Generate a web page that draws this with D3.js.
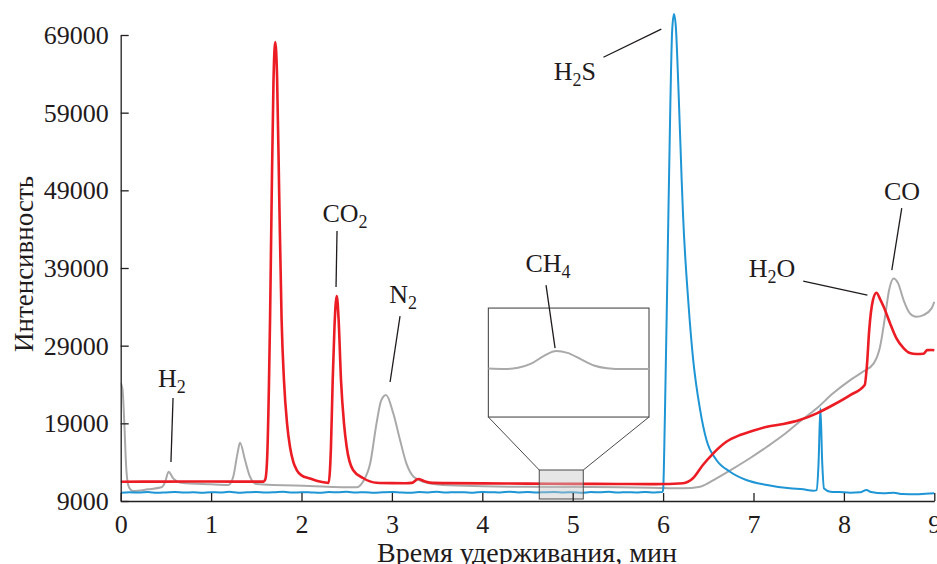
<!DOCTYPE html>
<html><head><meta charset="utf-8">
<script src="https://cdn.jsdelivr.net/npm/d3@7"></script>
<style>
html,body{margin:0;padding:0;background:#fff;}
svg{display:block;}
text{font-family:"Liberation Serif","Times New Roman",serif;fill:#1f1b1c;}
</style></head>
<body><svg id="c" width="937" height="564"></svg>
<script>
// ---------- data ----------
const xTicks = [0,1,2,3,4,5,6,7,8,9];
const yTicks = [9000,19000,29000,39000,49000,59000,69000];
const xLabel = "Время удерживания, мин";
const yLabel = "Интенсивность";

// red trace [time, intensity]
const redSeries = [
 [0,11480],[0.5,11500],[1.0,11510],[1.5,11490],[1.58,11500],[1.60,11800],[1.62,14500],[1.64,24000],
 [1.652,32300],[1.67,48000],[1.69,63000],[1.71,68100],[1.73,63500],[1.754,48000],[1.78,32300],
 [1.806,24570],[1.84,19000],[1.873,15950],[1.91,14000],[1.947,12990],[2.0,12300],[2.094,11900],
 [2.2,11500],[2.28,11350],[2.30,11340],[2.315,13000],[2.326,16000],[2.345,24500],[2.365,31500],
 [2.39,35400],[2.41,32500],[2.437,24570],[2.47,19000],[2.50,15950],[2.57,12990],[2.68,11960],
 [2.83,11350],[3.0,11300],[3.15,11290],[3.22,11330],[3.29,11830],[3.36,11550],[3.45,11330],
 [3.6,11300],[4.0,11270],[4.5,11240],[5.0,11210],[5.5,11190],[5.86,11170],[6.0,11180],[6.22,11280],
 [6.33,11920],[6.44,13630],[6.555,15140],[6.70,16630],[6.85,17490],[6.96,17920],[7.15,18560],
 [7.33,18910],[7.51,19420],[7.70,20290],[7.88,21360],[8.07,22640],[8.23,23930],[8.255,26500],
 [8.28,31000],[8.32,34800],[8.36,35810],[8.40,35000],[8.44,34000],[8.51,31900],[8.58,29980],
 [8.66,28690],[8.73,28050],[8.80,27920],[8.88,27950],[8.92,28430],[8.97,28450],[9.0,28400]
];

// grey trace [time, intensity]
const greySeries = [
 [0,24200],[0.02,23400],[0.04,19000],[0.06,13500],[0.08,11200],[0.11,10450],[0.14,10290],
 [0.3,10500],[0.45,10760],[0.49,11400],[0.53,12770],[0.58,11920],[0.67,11360],[0.99,11150],
 [1.19,11060],[1.245,12130],[1.29,15000],[1.32,16500],[1.375,14280],[1.43,12130],[1.50,11190],
 [2.09,10930],[2.61,10760],[2.68,11480],[2.76,13850],[2.83,19000],[2.88,21900],[2.935,22640],
 [3.015,20290],[3.09,16850],[3.16,13850],[3.24,12130],[3.35,11480],[3.57,11060],[4.0,10900],
 [4.5,10820],[5.0,10800],[5.5,10760],[5.86,10710],[6.22,10630],[6.41,10840],[6.59,11920],
 [6.78,13210],[6.96,14500],[7.15,15990],[7.33,17490],[7.51,19210],[7.70,20930],[7.88,22860],
 [8.07,24570],[8.21,25640],[8.33,26720],[8.40,28860],[8.455,32720],[8.50,36160],[8.55,37660],
 [8.60,37020],[8.66,34870],[8.73,33160],[8.80,32720],[8.88,32940],[8.97,33800],[9.0,34650]
];

// blue trace [time, intensity]
const blueSeries = [
 [0,10050],[0.1,10120],[0.2,10080],[0.3,10150],[0.4,10060],[0.5,10110],[0.6,10170],[0.7,10090],
 [0.8,10130],[0.9,10060],[1.0,10140],[1.1,10100],[1.2,10180],[1.3,10070],[1.4,10120],[1.5,10160],
 [1.6,10090],[1.7,10130],[1.8,10200],[1.9,10080],[2.0,10140],[2.1,10110],[2.2,10060],[2.3,10150],
 [2.4,10120],[2.5,10190],[2.6,10090],[2.7,10140],[2.8,10070],[2.9,10130],[3.0,10170],[3.1,10100],
 [3.2,10060],[3.3,10150],[3.4,10110],[3.5,10180],[3.6,10090],[3.7,10140],[3.8,10120],[3.9,10070],
 [4.0,10160],[4.1,10130],[4.2,10090],[4.3,10200],[4.4,10110],[4.5,10150],[4.6,10080],[4.7,10140],
 [4.8,10170],[4.9,10100],[5.0,10130],[5.1,10060],[5.2,10150],[5.3,10120],[5.4,10180],[5.5,10090],
 [5.6,10140],[5.7,10110],[5.8,10160],[5.9,10100],[5.99,10150],[6.00,10400],[6.02,20000],
 [6.05,40000],[6.08,60000],[6.10,69500],[6.12,71700],[6.14,70200],[6.17,62000],[6.205,50500],
 [6.22,46000],[6.28,34500],[6.33,27500],[6.41,20710],[6.48,16850],[6.59,14280],[6.74,12770],
 [6.92,11700],[7.15,11060],[7.40,10630],[7.55,10500],[7.66,10330],[7.70,10400],[7.72,14000],
 [7.74,20930],[7.76,14000],[7.78,10600],[7.85,10200],[7.95,10150],[8.07,10070],[8.18,10120],
 [8.25,10420],[8.30,10150],[8.44,9990],[8.55,10060],[8.65,9900],[8.80,9860],[8.9,9930],[9.0,9990]
];

// magnified CH4 region (inset) [time, intensity]
const insetSeries = [
 [4.63,10801],[4.68,10800],[4.72,10803],[4.76,10812],[4.80,10830],[4.836,10840],[4.87,10836],
 [4.91,10822],[4.95,10808],[4.99,10802],[5.04,10800],[5.117,10800]
];
const insetWindow = {t:[4.63,5.117], v:[9257,12990]};
const insetBox = {t:[4.067,5.844], v:[19810,33840]};
const insetDomain = [10693,10936];

// peak annotations: text (sub in braces), label anchor, leader line
const labels = [
 {text:"H{2}",   t:0.567, v:23670, line:[[0.579,22260],[0.556,14020]]},
 {text:"CO{2}",  t:2.481, v:44900, line:[[2.393,43750],[2.382,36540]]},
 {text:"N{2}",   t:3.123, v:34480, line:[[3.09,32810],[2.98,24320]]},
 {text:"CH{4}",  t:4.727, v:38470, line:[[4.705,36800],[4.805,28690]]},
 {text:"H{2}S",  t:5.025, v:63180, line:[[5.34,66140],[5.98,69750]]},
 {text:"H{2}O",  t:7.205, v:37830, line:[[7.55,37310],[8.26,35510]]},
 {text:"CO",     t:8.643, v:47740, line:[[8.64,46710],[8.53,38730]]}
];

// ---------- drawing ----------
const svg = d3.select("#c");
const x = d3.scaleLinear().domain([0,9]).range([120.7,934.3]);
const y = d3.scaleLinear().domain([9000,69000]).range([501,35]);
const AX = "#231f20";

svg.append("defs").append("clipPath").attr("id","clip")
  .append("rect").attr("x",x(0)).attr("y",0).attr("width",x(9)-x(0)+1).attr("height",y(9000));

const line = d3.line().x(d=>x(d[0])).y(d=>y(d[1])).curve(d3.curveMonotoneX);
const plot = svg.append("g").attr("clip-path","url(#clip)");
plot.append("path").datum(greySeries).attr("d",line).attr("fill","none")
  .attr("stroke","#a9a9a9").attr("stroke-width",2).attr("stroke-linejoin","round");
plot.append("path").datum(blueSeries).attr("d",line).attr("fill","none")
  .attr("stroke","#1e95d4").attr("stroke-width",2).attr("stroke-linejoin","round");
plot.append("path").datum(redSeries).attr("d",line).attr("fill","none")
  .attr("stroke","#ec1c24").attr("stroke-width",2.6).attr("stroke-linejoin","round");

// inset
const bx0=x(insetBox.t[0]), bx1=x(insetBox.t[1]), by0=y(insetBox.v[1]), by1=y(insetBox.v[0]);
const sx0=x(insetWindow.t[0]), sx1=x(insetWindow.t[1]), sy0=y(insetWindow.v[1]), sy1=y(insetWindow.v[0]);
const ins = svg.append("g");
ins.append("rect").attr("x",sx0).attr("y",sy0).attr("width",sx1-sx0).attr("height",sy1-sy0)
  .attr("fill","#c8c8c8").attr("fill-opacity",0.45).attr("stroke","#4a4a4a").attr("stroke-width",1);
ins.append("path").attr("d",`M${bx0},${by1}L${sx0},${sy0}M${bx1},${by1}L${sx1},${sy0}`)
  .attr("stroke","#4a4a4a").attr("stroke-width",1).attr("fill","none");
ins.append("rect").attr("x",bx0).attr("y",by0).attr("width",bx1-bx0).attr("height",by1-by0)
  .attr("fill","#fff").attr("stroke","#4a4a4a").attr("stroke-width",1.1);
const ix = d3.scaleLinear().domain(insetWindow.t).range([bx0,bx1]);
const iy = d3.scaleLinear().domain(insetDomain).range([by1,by0]);
ins.append("path").datum(insetSeries)
  .attr("d",d3.line().x(d=>ix(d[0])).y(d=>iy(d[1])).curve(d3.curveMonotoneX))
  .attr("fill","none").attr("stroke","#a9a9a9").attr("stroke-width",2);

// axes
const gx = svg.append("g").attr("transform",`translate(0,${y(9000)})`)
  .call(d3.axisBottom(x).tickValues(xTicks).tickFormat(d3.format("d")).tickSizeInner(-8).tickSizeOuter(0));
gx.selectAll("text").attr("y",32).attr("dy",null).style("font-size","26px").attr("fill","#1f1b1c");
const gy = svg.append("g").attr("transform",`translate(${x(0)},0)`)
  .call(d3.axisLeft(y).tickValues(yTicks).tickFormat(d3.format("d")).tickSizeInner(-8).tickSizeOuter(0).tickPadding(12));
gy.selectAll("text").style("font-size","26px").attr("fill","#1f1b1c").attr("dy","0.33em");
[gx,gy].forEach(g=>{
  g.attr("font-family",null).attr("font-size",null);
  g.selectAll("path,line").attr("stroke",AX).attr("stroke-width",1.3);
});

svg.append("text").attr("x",527).attr("y",562).attr("text-anchor","middle")
  .style("font-size","28px").text(xLabel);
svg.append("text").attr("transform","translate(33,264) rotate(-90)").attr("text-anchor","middle")
  .style("font-size","27px").text(yLabel);

// annotations
const ann = svg.append("g");
labels.forEach(l=>{
  ann.append("path").attr("d",d3.line()(l.line.map(p=>[x(p[0]),y(p[1])])))
    .attr("stroke","#1f1b1c").attr("stroke-width",1.3).attr("fill","none");
  const t = ann.append("text").attr("x",x(l.t)).attr("y",y(l.v)).attr("text-anchor","middle")
    .style("font-size","26px");
  const parts = l.text.split(/(\{[^}]*\})/).filter(s=>s.length);
  let shifted=false;
  parts.forEach(p=>{
    if(p[0]==="{"){
      t.append("tspan").attr("dy",6).style("font-size","18px").text(p.slice(1,-1));
      shifted=true;
    } else {
      const ts=t.append("tspan").text(p);
      if(shifted){ts.attr("dy",-6);shifted=false;}
    }
  });
});
</script></body></html>
